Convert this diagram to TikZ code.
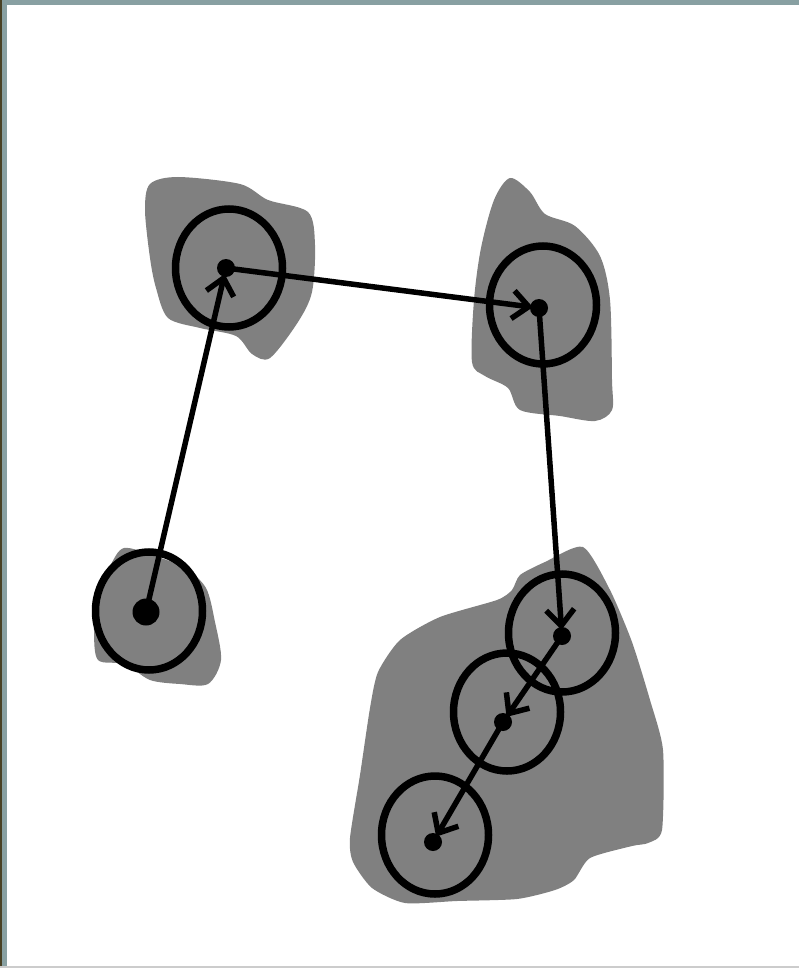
\documentclass[tikz,border=0pt]{standalone}
\usepackage{tikz}
\usetikzlibrary{arrows.meta,shapes.geometric}
\definecolor{framecol}{RGB}{136,160,162}
\definecolor{edgecol}{RGB}{72,64,36}
\definecolor{blobcol}{RGB}{128,128,128}
\tikzset{
  blob/.style = {fill=blobcol, draw=none},
  ring/.style = {ellipse, draw=black, line width=7.5pt, minimum width=107pt, minimum height=118pt, inner sep=0pt},
  pt/.style = {circle, fill=black, minimum size=18pt, inner sep=0pt},
  hop/.style = {line width=5.5pt, draw=black, -{Straight Barb[length=16pt,width=28pt,line width=5.5pt]}, shorten >=-3pt}
}

\begin{document}
\begin{tikzpicture}[x=1pt,y=-1pt]
\useasboundingbox (0,0) rectangle (799,968);
\fill[white] (0,0) rectangle (799,968);

% frame
\fill[framecol] (0,0) rectangle (799,5);
\fill[framecol] (0,0) rectangle (7,968);
\fill[edgecol] (0,0) rectangle (2,968);
\fill[black!20] (0,966) rectangle (799,968);

% regions
\fill[blob] plot[smooth cycle, tension=0.5] coordinates {(150,184) (178,177) (240,184) (268,200) (308,212) (315,245) (312,292) (298,322) (270,358) (252,354) (236,336) (200,328) (168,318) (156,288) (150,258) (145,210)};
\fill[blob] plot[smooth cycle, tension=0.5] coordinates {(510,178) (530,192) (545,214) (575,226) (600,256) (610,300) (612,380) (612,410) (595,421) (560,416) (520,410) (508,388) (485,376) (472,362) (474,300) (481,248) (494,200)};
\fill[blob] plot[smooth cycle, tension=0.5] coordinates {(124,548) (155,556) (185,568) (206,588) (215,622) (221,660) (208,684) (180,684) (150,680) (125,664) (98,660) (94,630) (96,595) (110,566)};
\fill[blob] plot[smooth cycle, tension=0.4] coordinates {(583,547) (610,590) (632,642) (650,700) (663,750) (662,830) (648,843) (632,846) (590,858) (574,880) (555,890) (517,899) (457,901) (405,903) (372,888) (353,862) (350,838) (360,775) (370,708) (378,672) (400,640) (440,617) (497,600) (512,590) (520,575) (545,562)};

% rings
\node[ring] (ra) at (229,268) {};
\node[ring] (rb) at (543,305) {};
\node[ring] (rc) at (149,611) {};
\node[ring] (rd1) at (562,633) {};
\node[ring] (rd2) at (507,712) {};
\node[ring] (rd3) at (435,835) {};

% points
\node[pt] (pa) at (226,268) {};
\node[pt] (pb) at (539,308) {};
\node[pt, minimum width=18pt, minimum height=27pt] (pc) at (146,612) {};
\node[pt] (pd1) at (562,636) {};
\node[pt] (pd2) at (503,722) {};
\node[pt] (pd3) at (433,842) {};

% path
\draw[hop] (pc.center) -- (pa);
\draw[hop] (pa.center) -- (pb);
\draw[hop] (pb.center) -- (pd1);
\draw[hop] (pd1.center) -- (pd2);
\draw[hop] (pd2.center) -- (pd3);
\end{tikzpicture}
\end{document}
